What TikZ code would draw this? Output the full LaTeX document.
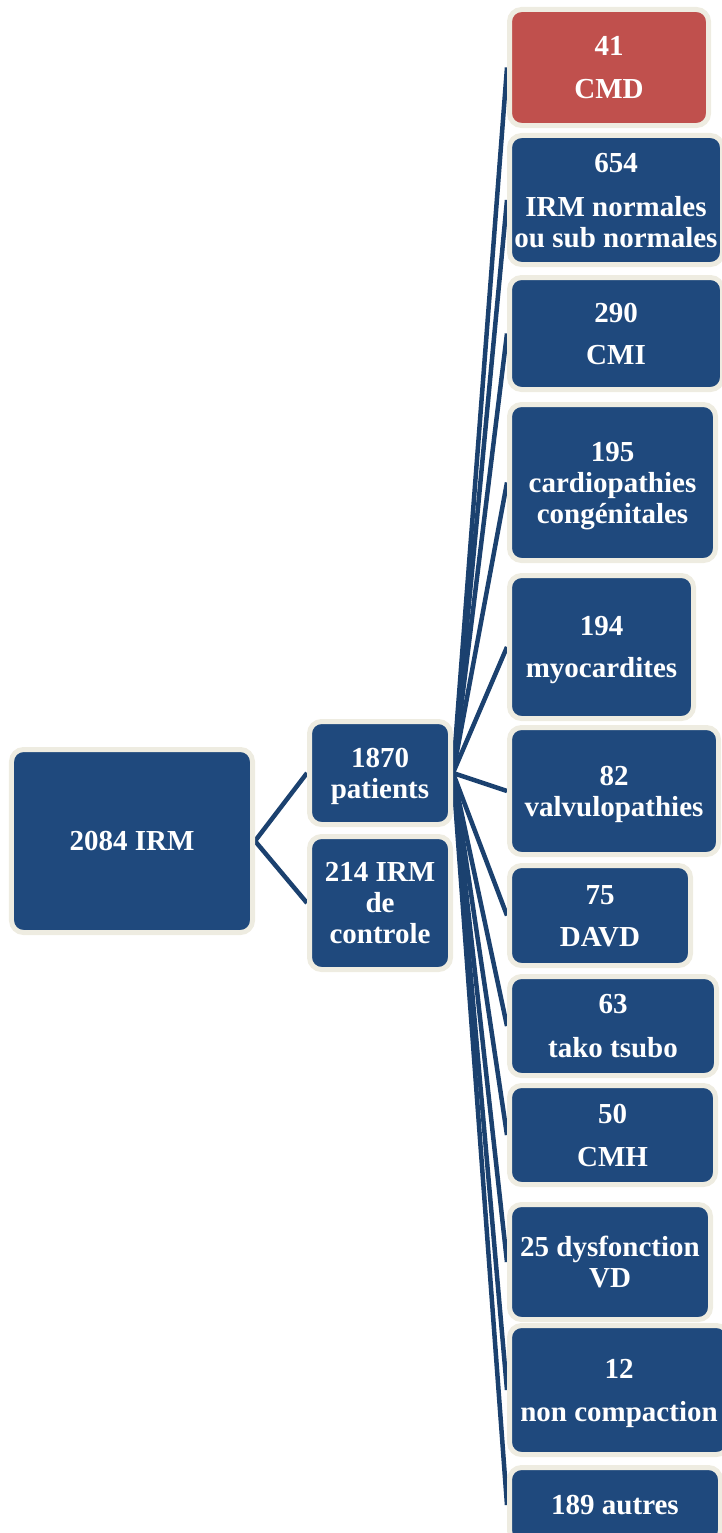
\documentclass[tikz,border=0pt]{standalone}
\usepackage{fontspec}
\setmainfont{Liberation Serif}
\usetikzlibrary{backgrounds}
\definecolor{boxblue}{HTML}{1F497D}
\definecolor{linkblue}{HTML}{1B416F}
\definecolor{cream}{HTML}{EEECE1}
\definecolor{boxred}{HTML}{C0504D}
\tikzset{
  box/.style={draw=cream, line width=5bp, fill=boxblue, rounded corners=12bp,
    inner sep=0pt, align=center, text=white, text depth=0pt,
    font=\fontsize{29bp}{31bp}\selectfont\bfseries},
  redbox/.style={box, fill=boxred},
  link/.style={draw=linkblue, line width=4.5bp}
}
\begin{document}
\begin{tikzpicture}[x=1bp, y=-1bp]
\useasboundingbox (0,0) rectangle (722,1533);
% left and middle
\node[box, minimum width=241bp, minimum height=183bp] (irm) at (132,841) {2084 IRM};
\node[box, minimum width=141bp, minimum height=103bp] (pat) at (380,773) {1870\\patients};
\node[box, minimum width=141bp, minimum height=133bp] (ctrl) at (380,903) {214 IRM\\de\\controle};
% right column
\node[redbox, minimum width=199bp, minimum height=116bp] (cmd) at (609,67.5) {41\\[12bp]CMD};
\node[box, minimum width=213bp, minimum height=129bp] (norm) at (616,200) {654\\[13bp]IRM normales\\ou sub normales};
\node[box, minimum width=213bp, minimum height=112bp] (cmi) at (616,333.5) {290\\[11bp]CMI};
\node[box, minimum width=206bp, minimum height=156bp] (cong) at (612.5,482.5) {195\\cardiopathies\\congénitales};
\node[box, minimum width=184bp, minimum height=143bp] (myo) at (601.5,647) {194\\[11bp]myocardites};
\node[box, minimum width=209bp, minimum height=127bp] (valv) at (614,791) {82\\valvulopathies};
\node[box, minimum width=181bp, minimum height=100bp] (davd) at (600,915.5) {75\\[11bp]DAVD};
\node[box, minimum width=207bp, minimum height=99bp] (tako) at (613,1026) {63\\[13bp]tako tsubo};
\node[box, minimum width=206bp, minimum height=99bp] (cmh) at (612.5,1135) {50\\[12bp]CMH};
\node[box, minimum width=201bp, minimum height=115bp] (dysf) at (610,1262) {25 dysfonction\\VD};
\node[box, minimum width=219bp, minimum height=129bp] (nonc) at (619,1390) {12\\[12bp]non compaction};
\node[box, minimum width=211bp, minimum height=75bp] (autres) at (615,1505) {189 autres};
\begin{pgfonlayer}{background}
\draw[link] (irm.east) -- (pat.west);
\draw[link] (irm.east) -- (ctrl.west);
\foreach \t in {cmd,norm,cmi,cong,myo,valv,davd,tako,cmh,dysf,nonc,autres}
  \draw[link] (pat.east) -- (\t.west);
\end{pgfonlayer}
\end{tikzpicture}
\end{document}
